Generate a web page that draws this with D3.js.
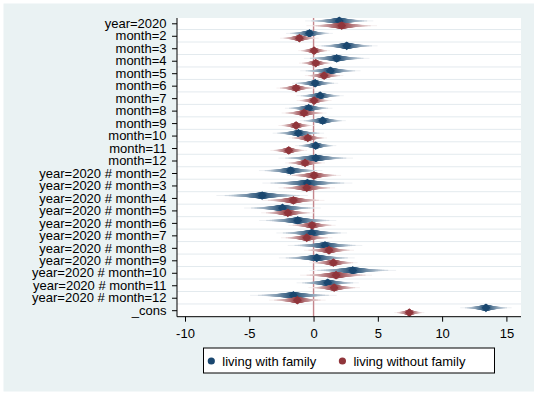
<html>
<head>
<meta charset="utf-8">
<script src="https://d3js.org/d3.v7.min.js"></script>
<style>
body { margin: 0; background: #fff; }
text { font-family: 'Liberation Sans', Arial, sans-serif; }
</style>
</head>
<body>
<svg width="545" height="395"></svg>
<script>
// coefficient labels, top to bottom
var terms = ["year=2020", "month=2", "month=3", "month=4", "month=5", "month=6",
  "month=7", "month=8", "month=9", "month=10", "month=11", "month=12",
  "year=2020 # month=2", "year=2020 # month=3", "year=2020 # month=4",
  "year=2020 # month=5", "year=2020 # month=6", "year=2020 # month=7",
  "year=2020 # month=8", "year=2020 # month=9", "year=2020 # month=10",
  "year=2020 # month=11", "year=2020 # month=12", "_cons"];

// living with family: point estimate and half width of the 99% interval
var withB = [2.0, -0.32, 2.58, 1.8, 1.31, 0.12, 0.51, -0.38, 0.71, -1.18, 0.17, 0.17,
  -1.78, -0.48, -4.0, -2.42, -1.23, -0.14, 0.89, 0.25, 3.05, 1.1, -1.57, 13.41];
var withCI = [2.65, 1.82, 2.4, 2.55, 2.35, 1.8, 1.84, 1.85, 1.8, 2.0, 1.6, 2.9,
  2.47, 3.5, 3.56, 2.98, 3.0, 2.75, 2.9, 2.95, 3.37, 2.42, 3.37, 2.0];

// living without family
var withoutB = [2.19, -1.1, 0.04, 0.17, 0.82, -1.36, 0.04, -0.74, -1.36, -0.45, -1.93, -0.66,
  0.04, -0.53, -1.57, -2.0, -0.12, -0.53, 1.2, 1.54, 1.75, 1.6, -1.26, 7.45];
var withoutCI = [2.75, 1.5, 1.23, 1.3, 1.5, 1.53, 1.36, 1.75, 1.37, 1.5, 1.43, 1.55,
  2.1, 2.2, 2.42, 2.07, 1.84, 2.0, 1.95, 1.88, 2.8, 2.0, 2.2, 1.17];

var xTicks = [-10, -5, 0, 5, 10, 15];
var seriesNames = ["living with family", "living without family"];

var navy = "#1a476f", maroon = "#90353b";

var svg = d3.select("svg");

// stata-ish background
svg.append("rect").attr("x", 3.5).attr("y", 3.5).attr("width", 530.5).attr("height", 388)
  .style("fill", "#eaf2f3");

var plotLeft = 177, plotRight = 521, plotTop = 18, plotBottom = 316.7;
svg.append("rect").attr("x", plotLeft).attr("y", plotTop)
  .attr("width", plotRight - plotLeft).attr("height", plotBottom - plotTop)
  .style("fill", "#fff");

var x = d3.scaleLinear().domain([-10, 15]).range([185, 506.4]);
var y = d3.scalePoint().domain(terms).range([23.3, 310.2]);

// grid lines sit between the rows
var mids = d3.pairs(terms).map(function (p) { return (y(p[0]) + y(p[1])) / 2; });
svg.selectAll("line.grid").data(mids).enter().append("line").attr("class", "grid")
  .attr("x1", plotLeft).attr("x2", plotRight)
  .attr("y1", function (d) { return d; }).attr("y2", function (d) { return d; })
  .style("stroke", "#e3eaee").style("stroke-width", 1);

// xline(0)
svg.append("line").attr("x1", x(0)).attr("x2", x(0)).attr("y1", plotTop).attr("y2", plotBottom)
  .style("stroke", "#c4868d").style("stroke-width", 1.4);

// upper normal quantile for tail probability p (Abramowitz & Stegun 26.2.23)
function zTail(p) {
  var t = Math.sqrt(-2 * Math.log(p));
  return t - (2.515517 + 0.802853 * t + 0.010328 * t * t) /
    (1 + 1.432788 * t + 0.189269 * t * t + 0.001308 * t * t * t);
}

var nLevels = 40;
var levels = d3.range(nLevels).map(function (k) { return 1 + k * 98 / (nLevels - 1); });
var z99 = zTail(0.005);

function drawSeries(b, ci, color, offset) {
  var g = svg.append("g");
  var fade = d3.interpolateRgb("#ffffff", color);
  b.forEach(function (est, i) {
    var se = ci[i] / z99;
    var cy = y(terms[i]) + offset;
    for (var k = nLevels - 1; k >= 0; k--) {
      var f = 1 - k / (nLevels - 1);   // 0 at widest, 1 at narrowest
      var hw = zTail((1 - levels[k] / 100) / 2) * se;
      var h = 1 + 5.8 * f;
      g.append("rect")
        .attr("x", x(est - hw)).attr("width", x(est + hw) - x(est - hw))
        .attr("y", cy - h / 2).attr("height", h)
        .style("fill", fade(0.08 + 0.92 * Math.pow(f, 0.55)));
    }
    var px = x(est), r = 4.4;
    g.append("path")
      .attr("d", "M" + px + "," + (cy - r) + "L" + (px + r) + "," + cy +
        "L" + px + "," + (cy + r) + "L" + (px - r) + "," + cy + "Z")
      .style("fill", color);
  });
}

drawSeries(withB, withCI, navy, -2.4);
drawSeries(withoutB, withoutCI, maroon, 2.4);

// axes
var xAxis = d3.axisBottom(x).tickValues(xTicks).tickSize(5).tickPadding(7)
  .tickFormat(function (d) { return String(d); });
var gx = svg.append("g").attr("transform", "translate(0," + plotBottom + ")").call(xAxis);
gx.select(".domain").attr("d", "M" + plotLeft + ",0H" + plotRight);
var yAxis = d3.axisLeft(y).tickSize(5).tickPadding(5.5);
var gy = svg.append("g").attr("transform", "translate(" + plotLeft + ",0)").call(yAxis);
gy.select(".domain").attr("d", "M0," + plotTop + "V" + plotBottom);
svg.selectAll(".tick text").style("font-size", "13px").style("fill", "#000")
  .style("font-family", "'Liberation Sans', Arial, sans-serif");
svg.selectAll(".domain, .tick line").style("stroke", "#000");

// legend
var legend = svg.append("g");
legend.append("rect").attr("x", 203.5).attr("y", 348).attr("width", 291).attr("height", 25)
  .style("fill", "#fff").style("stroke", "#000").style("stroke-width", 1);
var legX = [211.3, 342.4];
[navy, maroon].forEach(function (c, i) {
  legend.append("circle").attr("cx", legX[i]).attr("cy", 361).attr("r", 3.6).style("fill", c);
  legend.append("text").attr("x", legX[i] + 11).attr("y", 365.5)
    .style("font-size", "13px").text(seriesNames[i]);
});
</script>
</body>
</html>
